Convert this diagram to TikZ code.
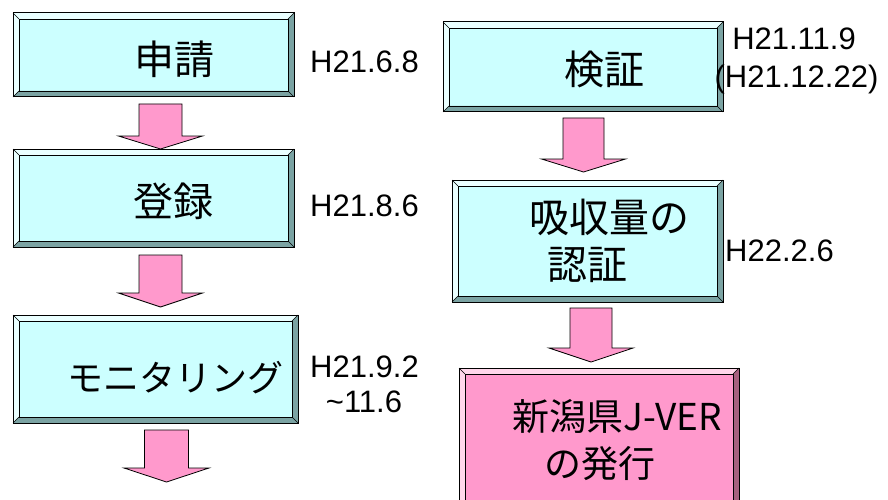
\documentclass[tikz,border=0pt]{standalone}
\usepackage{fontspec}
\setmainfont{Liberation Sans}
\newfontfamily\jp{Noto Sans CJK JP}
\usetikzlibrary{calc}
\definecolor{cyface}{HTML}{CCFFFF}
\definecolor{cylight}{HTML}{EAFFFF}
\definecolor{cydark}{HTML}{7BA3A3}
\definecolor{pkface}{HTML}{FF99CC}
\definecolor{pklight}{HTML}{FFD6EA}
\definecolor{pkdark}{HTML}{A8607F}
\definecolor{arrowpink}{HTML}{FF99CC}
\tikzset{
  bbox/.style={draw=black, line width=1pt, inner sep=0pt, outer sep=0pt},
  lbl/.style={font=\fontsize{31}{31}\selectfont, inner sep=0pt, anchor=base},
  jt/.style={font=\jp\fontsize{40}{40}\selectfont, inner sep=0pt},
  jtp/.style={font=\jp\fontsize{37}{37}\selectfont, inner sep=0pt},
  blockarrow/.style={fill=arrowpink, draw=black, line width=0.8pt, line join=miter}
}
\newcommand\bw{6pt}
% name, x1, y1, x2, y2, face, light, dark
\newcommand\bvbox[8]{%
  \node[bbox, fill=#6, minimum width={(#4-#2)*1pt}, minimum height={(#5-#3)*1pt}]
    (#1) at ({(#2+#4)/2},{(#3+#5)/2}) {};
  \fill[#7] (#1.north west) -- (#1.north east) -- ([shift={(-\bw,-\bw)}]#1.north east)
    -- ([shift={(\bw,-\bw)}]#1.north west) -- cycle;
  \fill[#7] (#1.north west) -- ([shift={(\bw,-\bw)}]#1.north west)
    -- ([shift={(\bw,\bw)}]#1.south west) -- (#1.south west) -- cycle;
  \fill[#8] (#1.north east) -- (#1.south east) -- ([shift={(-\bw,\bw)}]#1.south east)
    -- ([shift={(-\bw,-\bw)}]#1.north east) -- cycle;
  \fill[#8] (#1.south west) -- (#1.south east) -- ([shift={(-\bw,\bw)}]#1.south east)
    -- ([shift={(\bw,\bw)}]#1.south west) -- cycle;
  \draw[line width=0.8pt] ([shift={(\bw,-\bw)}]#1.north west) rectangle ([shift={(-\bw,\bw)}]#1.south east);
  \draw[line width=0.6pt] (#1.north west) -- ([shift={(\bw,-\bw)}]#1.north west)
    (#1.north east) -- ([shift={(-\bw,-\bw)}]#1.north east)
    (#1.south west) -- ([shift={(\bw,\bw)}]#1.south west)
    (#1.south east) -- ([shift={(-\bw,\bw)}]#1.south east);
  \draw[line width=1pt] (#1.north west) rectangle (#1.south east);
}
% cx, top, shaft half, head half, head y, tip y
\newcommand\barrow[6]{%
  \draw[blockarrow] ({#1-#3},#2) -- ({#1+#3},#2) -- ({#1+#3},#5) -- ({#1+#4},#5)
    -- (#1,#6) -- ({#1-#4},#5) -- ({#1-#3},#5) -- cycle;
}
\begin{document}
\begin{tikzpicture}[x=1pt,y=-1pt]
\useasboundingbox (0,0) rectangle (888,500);
\clip (0,0) rectangle (888,500);
\fill[white] (0,0) rectangle (888,500);

% left column
\bvbox{b1}{13}{13}{294}{97}{cyface}{cylight}{cydark}
\bvbox{b2}{13}{149}{294}{247}{cyface}{cylight}{cydark}
\bvbox{b3}{13}{315}{298}{423}{cyface}{cylight}{cydark}
% right column
\bvbox{b4}{443}{22}{723}{112}{cyface}{cylight}{cydark}
\bvbox{b5}{452}{180}{723}{302}{cyface}{cylight}{cydark}
\bvbox{b6}{459}{368}{739}{520}{pkface}{pklight}{pkdark}

% arrows
\barrow{160.5}{104}{21.5}{42}{136}{149}
\barrow{160.5}{255}{21.5}{42}{293}{307}
\barrow{166.5}{430}{22}{42.5}{468}{482}
\barrow{583.5}{118}{20.5}{42}{159}{172}
\barrow{591}{308}{21}{42}{348}{362}

% box texts
\node[jt] (t1) at (174,59) {申請};
\node[jt] (t2) at (173,201) {登録};
\node[jt, font=\jp\fontsize{36}{36}\selectfont] (t3) at (175,378) {モニタリング};
\node[jt] (t4) at (604,69) {検証};
\node[jt] (t5a) at (609,217) {吸収量の};
\node[jt] (t5b) at (587,265) {認証};
\node[jtp] (t6a) at (617.5,417) {新潟県J-VER};
\node[jtp] (t6b) at (599.5,463.5) {の発行};

% date labels
\node[lbl, anchor=base west] (d1) at (310,73) {H21.6.8};
\node[lbl, anchor=base west] (d2) at (310,216) {H21.8.6};
\node[lbl, anchor=base west] (d3a) at (310,377) {H21.9.2};
\node[lbl] (d3b) at (364,412) {\textasciitilde 11.6};
\node[lbl] (d4a) at (794,50) {H21.11.9};
\node[lbl] (d4b) at (796.5,88) {(H21.12.22)};
\node[lbl, anchor=base west] (d5) at (725,261) {H22.2.6};
\end{tikzpicture}
\end{document}
